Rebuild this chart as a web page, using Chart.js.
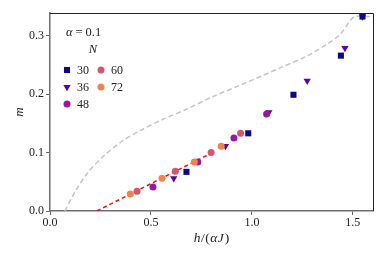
<!DOCTYPE html>
<html>
<head>
<meta charset="utf-8">
<script src="https://cdn.jsdelivr.net/npm/chart.js@4.4.1/dist/chart.umd.min.js"></script>
<style>
  html, body { margin: 0; padding: 0; background: #fff; }
</style>
</head>
<body>
<canvas id="chart" width="387" height="258"></canvas>
<script>
// tick labels
const xTicks = [0, 0.5, 1.0, 1.5];
const yTicks = [0, 0.1, 0.2, 0.3];

// system sizes N and their markers
const sizes = ['30', '36', '48', '60', '72'];
const colors = ['#0d0887', '#5c01a6', '#9c179e', '#d5546e', '#f1844b'];

// m vs h/(alpha J) for each N
const n30x = [0.676, 0.982, 1.206, 1.441, 1.548];
const n30y = [0.067, 0.133, 0.199, 0.266, 0.333];
const n36x = [0.613, 0.869, 1.084, 1.274, 1.461, 1.548];
const n36y = [0.056, 0.111, 0.169, 0.223, 0.279, 0.333];
const n48x = [0.510, 0.732, 0.911, 1.073];
const n48y = [0.041, 0.084, 0.125, 0.166];
const n60x = [0.431, 0.621, 0.798, 0.944];
const n60y = [0.034, 0.068, 0.100, 0.133];
const n72x = [0.398, 0.555, 0.715, 0.848];
const n72y = [0.029, 0.056, 0.084, 0.111];

// grey dashed reference curve
const curveX = [0.074, 0.124, 0.190, 0.272, 0.355, 0.454, 0.553, 0.668, 0.808, 0.974, 1.139, 1.271, 1.370, 1.436, 1.485, 1.510, 1.600];
const curveY = [0.000, 0.033, 0.067, 0.096, 0.119, 0.139, 0.156, 0.173, 0.196, 0.220, 0.245, 0.265, 0.285, 0.302, 0.325, 0.333, 0.333];

// red dashed linear fit
const fitX = [0.232, 0.810];
const fitY = [0.000, 0.101];

const pts = (xs, ys) => xs.map((x, i) => ({ x: x, y: ys[i] }));
const markers = [
    { style: 'rect', radius: 4.3, rotation: 0 },
    { style: 'triangle', radius: 4.2, rotation: 180 },
    { style: 'circle', radius: 3.5, rotation: 0 },
    { style: 'circle', radius: 3.5, rotation: 0 },
    { style: 'circle', radius: 3.5, rotation: 0 }
];
const series = [pts(n30x, n30y), pts(n36x, n36y), pts(n48x, n48y), pts(n60x, n60y), pts(n72x, n72y)];
// lower order is painted later (on top): squares over triangles, 72 on top
const zOrder = [5, 6, 4, 3, 2];

const datasets = [
    {
        data: pts(curveX, curveY), showLine: true, borderColor: '#c4c4c4', borderWidth: 1.5,
        borderDash: [5, 3], pointRadius: 0, tension: 0.3, order: 10
    },
    {
        data: pts(fitX, fitY), showLine: true, borderColor: '#ee1111', borderWidth: 1.5,
        borderDash: [4, 3], pointRadius: 0, order: 9
    }
];
series.forEach((s, i) => {
    datasets.push({
        label: sizes[i], data: s, showLine: false, order: zOrder[i],
        pointStyle: markers[i].style, pointRadius: markers[i].radius, pointRotation: markers[i].rotation,
        backgroundColor: colors[i], borderColor: colors[i], pointBorderWidth: 0
    });
});

const serif = '"Liberation Serif", "DejaVu Serif", serif';

// draw a row of text pieces [text, italic, gap] from x
function pieces(ctx, parts, x, y, size) {
    parts.forEach(([t, it, gap]) => {
        ctx.font = (it ? 'italic ' : '') + size + 'px ' + serif;
        ctx.fillText(t, x, y);
        x += ctx.measureText(t).width + (gap || 0);
    });
    return x;
}
function piecesWidth(ctx, parts, size) {
    let w = 0;
    parts.forEach(([t, it, gap]) => {
        ctx.font = (it ? 'italic ' : '') + size + 'px ' + serif;
        w += ctx.measureText(t).width + (gap || 0);
    });
    return w;
}

// spines, axis titles and legend box
const extras = {
    id: 'extras',
    afterDraw(chart) {
        const { ctx, chartArea: a } = chart;
        ctx.save();
        ctx.strokeStyle = '#222';
        ctx.lineWidth = 1;
        ctx.beginPath();
        ctx.moveTo(a.left, a.top + 0.5);
        ctx.lineTo(a.right + 0.5, a.top + 0.5);
        ctx.lineTo(a.right + 0.5, a.bottom);
        ctx.stroke();

        ctx.fillStyle = '#222';
        ctx.textBaseline = 'middle';

        // y title
        ctx.save();
        ctx.translate(20, (a.top + a.bottom) / 2);
        ctx.rotate(-Math.PI / 2);
        ctx.textAlign = 'center';
        ctx.font = 'italic 13px ' + serif;
        ctx.fillText('m', 0, 0);
        ctx.restore();

        // x title h/(αJ)
        ctx.textAlign = 'left';
        const title = [['h', true, 0.5], ['/', false, 0.5], ['(', false, 0.5], ['α', true, 0.5], ['J', true, 1], [')', false, 0]];
        const tw = piecesWidth(ctx, title, 13.5);
        pieces(ctx, title, (a.left + a.right) / 2 - tw / 2, 238, 13.5);

        // legend
        pieces(ctx, [['α', true, 3], ['=', false, 3], ['0.1', false, 0]], 66, 33, 12.5);
        ctx.textAlign = 'center';
        ctx.font = 'italic 12.5px ' + serif;
        ctx.fillText('N', 93, 50);

        ctx.textAlign = 'left';
        ctx.font = '12px ' + serif;
        const pos = [[67, 70], [67, 87], [67, 104], [101, 70], [101, 87]];
        sizes.forEach((lab, i) => {
            const [px, py] = pos[i];
            ctx.fillStyle = colors[i];
            Chart.helpers.drawPoint(ctx, {
                pointStyle: markers[i].style, radius: markers[i].radius,
                rotation: markers[i].rotation, borderWidth: 0
            }, px, py);
            ctx.fillStyle = '#222';
            ctx.fillText(lab, px + 10, py + 1);
        });
        ctx.restore();
    }
};

new Chart(document.getElementById('chart'), {
    type: 'scatter',
    data: { datasets: datasets },
    options: {
        responsive: false,
        animation: false,
        layout: { padding: { left: 0, top: 13, right: 14, bottom: 0 } },
        plugins: { legend: { display: false }, tooltip: { enabled: false } },
        scales: {
            x: {
                type: 'linear', min: 0, max: 1.6,
                afterFit: s => { s.height = 47; },
                afterBuildTicks: s => { s.ticks = xTicks.map(v => ({ value: v })); },
                grid: { drawOnChartArea: false, tickLength: 4, color: '#666', tickWidth: 1 },
                border: { color: '#6e6e6e', width: 1.5 },
                ticks: { color: '#222', padding: 1, font: { family: serif, size: 12 },
                         callback: v => v.toFixed(1), maxRotation: 0 }
            },
            y: {
                type: 'linear', min: 0, max: 0.339,
                afterFit: s => { s.width = 50; },
                afterBuildTicks: s => { s.ticks = yTicks.map(v => ({ value: v })); },
                grid: { drawOnChartArea: false, tickLength: 4, color: '#666', tickWidth: 1 },
                border: { color: '#6e6e6e', width: 1.5 },
                ticks: { color: '#222', padding: 2, font: { family: serif, size: 12 },
                         callback: v => v.toFixed(1) }
            }
        }
    },
    plugins: [extras]
});
</script>
</body>
</html>
